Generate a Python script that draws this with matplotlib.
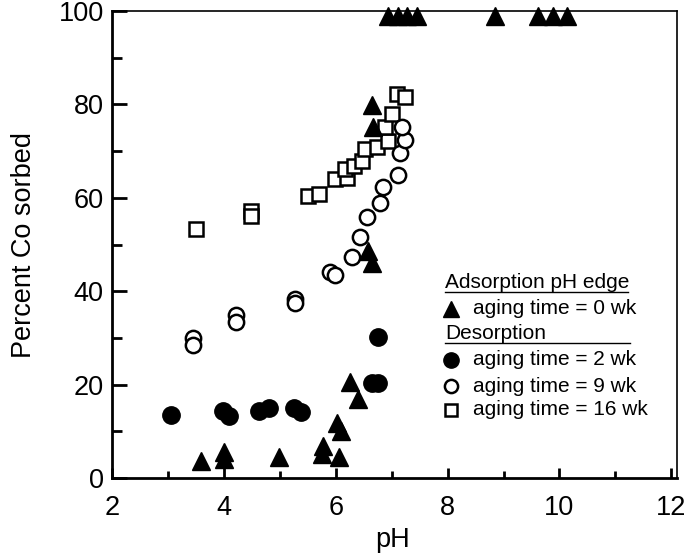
import matplotlib
matplotlib.use('Agg')
import matplotlib.pyplot as plt
from matplotlib.ticker import MultipleLocator

plt.rcParams['font.family'] = ['Liberation Sans', 'DejaVu Sans']

# aging time = 0 wk (adsorption pH edge)
ph_0wk = [3.60, 4.00, 4.00, 4.98, 5.78, 5.75, 6.05, 6.02, 6.09, 6.26, 6.39,
          6.58, 6.64, 6.64, 6.67, 6.94, 7.12, 7.28, 7.46, 8.85, 9.62, 9.89, 10.14]
co_0wk = [3.7, 5.5, 4.0, 4.4, 6.9, 5.1, 4.4, 11.8, 10.1, 20.5, 17.0,
          48.6, 46.0, 79.8, 75.1, 99, 99, 99, 99, 99, 99, 99, 99]

# aging time = 2 wk (desorption)
ph_2wk = [3.05, 3.99, 4.09, 4.62, 4.80, 5.26, 5.38, 6.64, 6.76, 6.76]
co_2wk = [13.6, 14.3, 13.3, 14.3, 14.9, 15.0, 14.2, 20.4, 20.4, 30.1]

# aging time = 9 wk
ph_9wk = [3.45, 3.45, 4.22, 4.22, 5.27, 5.27, 5.90, 5.99, 6.29, 6.44, 6.55,
          6.79, 6.85, 7.12, 7.15, 7.24, 7.18]
co_9wk = [29.9, 28.5, 34.9, 33.5, 38.4, 37.4, 44.2, 43.5, 47.3, 51.6, 55.9,
          58.8, 62.3, 64.8, 69.6, 72.3, 75.1]

# aging time = 16 wk
ph_16wk = [3.50, 4.48, 4.48, 5.50, 5.70, 5.99, 6.20, 6.17, 6.32, 6.47, 6.52,
           6.73, 6.94, 6.88, 7.00, 7.09, 7.24]
co_16wk = [53.3, 57.2, 56.2, 60.4, 60.8, 64.0, 64.3, 66.1, 66.8, 67.9, 70.5,
           70.8, 72.2, 75.1, 77.9, 82.3, 81.5]

fig = plt.figure(figsize=(6.9, 5.57), dpi=100)
ax = fig.add_axes([0.1623, 0.1418, 0.8188, 0.8384])

ax.plot(ph_16wk, co_16wk, 's', ms=10, mfc='white', mec='black', mew=1.8, ls='none')
ax.plot(ph_9wk, co_9wk, 'o', ms=11, mfc='white', mec='black', mew=1.8, ls='none')
ax.plot(ph_2wk, co_2wk, 'o', ms=12.5, mfc='black', mec='black', ls='none')
ax.plot(ph_0wk, co_0wk, '^', ms=13.5, mfc='black', mec='black', ls='none', clip_on=False, zorder=5)

ax.set_xlim(2, 12.1)
ax.set_ylim(0, 100)
ax.xaxis.set_major_locator(MultipleLocator(2))
ax.xaxis.set_minor_locator(MultipleLocator(1))
ax.yaxis.set_major_locator(MultipleLocator(20))
ax.yaxis.set_minor_locator(MultipleLocator(10))

ax.tick_params(axis='x', which='major', direction='in', length=7, width=2, pad=12, labelsize=19.5)
ax.tick_params(axis='x', which='minor', direction='in', length=5, width=2)
ax.tick_params(axis='y', which='major', direction='in', length=11, width=2, pad=6, labelsize=19.5)
ax.tick_params(axis='y', which='minor', direction='in', length=7, width=2)

for s in ['left', 'bottom']:
    ax.spines[s].set_linewidth(2)
for s in ['top', 'right']:
    ax.spines[s].set_linewidth(1.2)

ax.set_xlabel('pH', fontsize=19.5)
ax.set_ylabel('Percent Co sorbed', fontsize=19.5)
ax.xaxis.set_label_coords(0.496, -0.105)
ax.yaxis.set_label_coords(-0.133, 0.5)

# legend, drawn by hand because of the underlined group headers
tr = ax.transAxes
fs = 15
ax.text(0.589, 0.418, 'Adsorption pH edge', transform=tr, fontsize=fs, va='center')
ax.plot([0.589, 0.913], [0.398, 0.398], transform=tr, color='black', lw=1)
ax.plot([0.600], [0.362], '^', transform=tr, ms=12, color='black')
ax.text(0.639, 0.362, 'aging time = 0 wk', transform=tr, fontsize=fs, va='center')
ax.text(0.589, 0.310, 'Desorption', transform=tr, fontsize=fs, va='center')
ax.plot([0.589, 0.917], [0.289, 0.289], transform=tr, color='black', lw=1)
ax.plot([0.600], [0.253], 'o', transform=tr, ms=11, color='black')
ax.text(0.639, 0.253, 'aging time = 2 wk', transform=tr, fontsize=fs, va='center')
ax.plot([0.600], [0.197], 'o', transform=tr, ms=9.5, mfc='white', mec='black', mew=1.8)
ax.text(0.639, 0.197, 'aging time = 9 wk', transform=tr, fontsize=fs, va='center')
ax.plot([0.600], [0.146], 's', transform=tr, ms=9, mfc='white', mec='black', mew=1.8)
ax.text(0.639, 0.146, 'aging time = 16 wk', transform=tr, fontsize=fs, va='center')

fig.savefig('out.png', dpi=100)
